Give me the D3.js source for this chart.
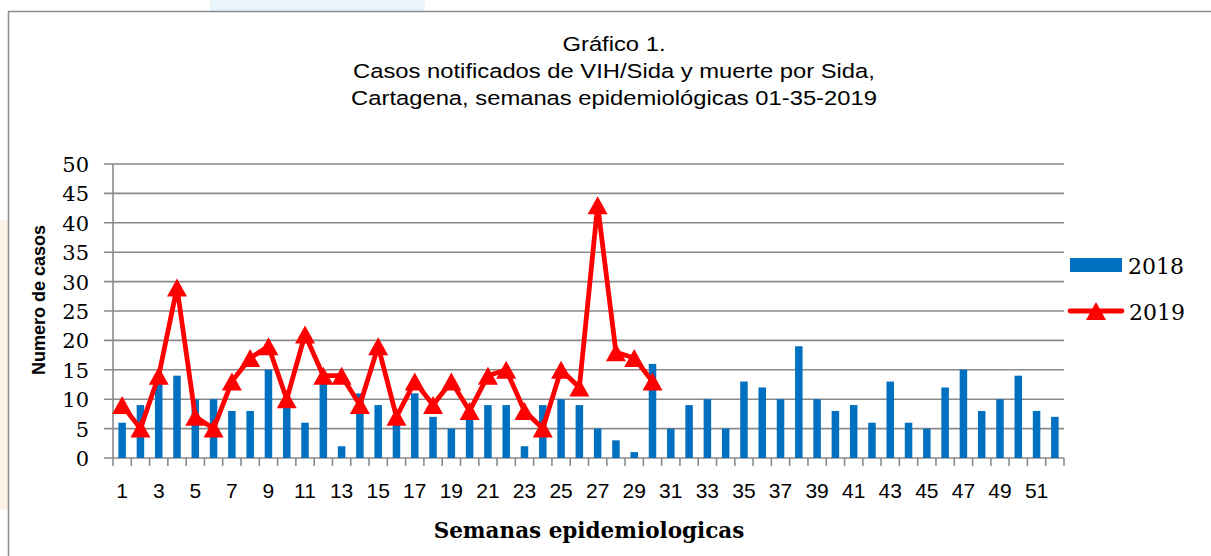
<!DOCTYPE html>
<html>
<head>
<meta charset="utf-8">
<script src="https://cdn.jsdelivr.net/npm/d3@7"></script>
<style>
  body { margin: 0; background: #fff; }
  svg { display: block; }
</style>
</head>
<body>
<div id="chart"></div>
<script>
// datos
const semanas = d3.range(1, 53)
const casos2018 = [6, 9, 13, 14, 10, 10, 8, 8, 15, 10, 6, 13, 2, 11, 9, 7, 11, 7, 5, 7,
  9, 9, 2, 9, 10, 9, 5, 3, 1, 16, 5, 9, 10, 5, 13, 12, 10, 19, 10, 8,
  9, 6, 13, 6, 5, 12, 15, 8, 10, 14, 8, 7]
const casos2019 = [9, 5, 14, 29, 7, 5, 13, 17, 19, 10, 21, 14, 14, 9, 19, 7, 13, 9, 13, 8,
  14, 15, 8, 5, 15, 12, 43, 18, 17, 13]
const yTicks = [0, 5, 10, 15, 20, 25, 30, 35, 40, 45, 50]
const titulo = ["Gráfico 1.", "Casos notificados de VIH/Sida y muerte por Sida,", "Cartagena, semanas epidemiológicas 01-35-2019"]

let width = 1211
let height = 556
const margin = { left: 113, right: 1064, top: 164, bottom: 458 }

let svg = d3.select("#chart")
  .append("svg")
  .attr("width", width)
  .attr("height", height)

// fondo (restos de la pagina)
svg.append("rect").attr("x", 210).attr("y", 0).attr("width", 215).attr("height", 11).attr("fill", "#eaf5fb")
svg.append("rect").attr("x", 0).attr("y", 220).attr("width", 8).attr("height", 290).attr("fill", "#fdf3e6")

// marco
svg.append("rect")
  .attr("x", 8.5).attr("y", 11.5)
  .attr("width", 1215).attr("height", 560)
  .attr("fill", "#fff")
  .attr("stroke", "#8c8c8c")
  .attr("stroke-width", 1.5)

// titulo
svg.append("g").selectAll("text")
  .data(titulo)
  .enter().append("text")
  .attr("transform", (d, i) => `translate(614,${50.5 + i * 27}) scale(1.16,1)`)
  .attr("text-anchor", "middle")
  .style("font-family", "Liberation Sans, Arial, sans-serif")
  .style("font-size", "20.5px")
  .style("fill", "#000")
  .text(d => d)

let x = d3.scaleBand()
  .domain(semanas)
  .range([margin.left, margin.right])
  .paddingInner(0)

let y = d3.scaleLinear()
  .domain([0, 50])
  .range([margin.bottom, margin.top])

// lineas de cuadricula
svg.append("g")
  .selectAll("line")
  .data(yTicks)
  .enter().append("line")
  .attr("x1", margin.left - 9)
  .attr("x2", margin.right)
  .attr("y1", d => y(d))
  .attr("y2", d => y(d))
  .attr("stroke", "#8a8a8a")
  .attr("stroke-width", 1.6)

// eje y
svg.append("line")
  .attr("x1", margin.left).attr("x2", margin.left)
  .attr("y1", margin.top).attr("y2", margin.bottom)
  .attr("stroke", "#8a8a8a")
  .attr("stroke-width", 1.6)

svg.append("g")
  .selectAll("text")
  .data(yTicks)
  .enter().append("text")
  .attr("x", 89)
  .attr("y", d => y(d) + 8)
  .attr("text-anchor", "end")
  .style("font-family", "DejaVu Serif, serif")
  .style("font-size", "21px")
  .text(d => d)

// ticks eje x
svg.append("g")
  .selectAll("line")
  .data(semanas.concat([53]))
  .enter().append("line")
  .attr("x1", d => d === 53 ? margin.right : x(d))
  .attr("x2", d => d === 53 ? margin.right : x(d))
  .attr("y1", margin.bottom)
  .attr("y2", margin.bottom + 8)
  .attr("stroke", "#8a8a8a")
  .attr("stroke-width", 1.6)

svg.append("g")
  .selectAll("text")
  .data(semanas.filter(d => d % 2 === 1))
  .enter().append("text")
  .attr("x", d => x(d) + x.bandwidth() / 2)
  .attr("y", 498)
  .attr("text-anchor", "middle")
  .style("font-family", "Liberation Sans, Arial, sans-serif")
  .style("font-size", "21px")
  .text(d => d)

// barras 2018
let barW = 7.5
svg.append("g")
  .selectAll("rect")
  .data(casos2018)
  .enter().append("rect")
  .attr("x", (d, i) => x(semanas[i]) + x.bandwidth() / 2 - barW / 2)
  .attr("y", d => y(d))
  .attr("width", barW)
  .attr("height", d => y(0) - y(d))
  .attr("fill", "#0070c0")

// linea 2019
let line = d3.line()
  .x((d, i) => x(semanas[i]) + x.bandwidth() / 2)
  .y(d => y(d))

svg.append("path")
  .datum(casos2019)
  .attr("d", line)
  .attr("fill", "none")
  .attr("stroke", "#ff0000")
  .attr("stroke-width", 4.8)
  .attr("stroke-linejoin", "round")

const tri = "M0,-9L10,9L-10,9Z"
svg.append("g")
  .selectAll("path")
  .data(casos2019)
  .enter().append("path")
  .attr("d", tri)
  .attr("transform", (d, i) => `translate(${x(semanas[i]) + x.bandwidth() / 2},${y(d)})`)
  .attr("fill", "#ff0000")

// leyenda
svg.append("rect")
  .attr("x", 1070).attr("y", 258)
  .attr("width", 52).attr("height", 14)
  .attr("fill", "#0070c0")
svg.append("text")
  .attr("x", 1128).attr("y", 274)
  .style("font-family", "DejaVu Serif, serif")
  .style("font-size", "22px")
  .text("2018")

svg.append("line")
  .attr("x1", 1070).attr("x2", 1122)
  .attr("y1", 311).attr("y2", 311)
  .attr("stroke", "#ff0000")
  .attr("stroke-width", 4.8)
  .attr("stroke-linecap", "round")
svg.append("path")
  .attr("d", tri)
  .attr("transform", "translate(1096,311)")
  .attr("fill", "#ff0000")
svg.append("text")
  .attr("x", 1129).attr("y", 320)
  .style("font-family", "DejaVu Serif, serif")
  .style("font-size", "22px")
  .text("2019")

// titulos de ejes
svg.append("text")
  .attr("transform", "translate(45,300) rotate(-90)")
  .attr("text-anchor", "middle")
  .style("font-family", "Liberation Sans, Arial, sans-serif")
  .style("font-weight", "bold")
  .style("font-size", "18px")
  .text("Numero de casos")

svg.append("text")
  .attr("x", 589).attr("y", 538)
  .attr("text-anchor", "middle")
  .style("font-family", "DejaVu Serif, serif")
  .style("font-weight", "bold")
  .style("font-size", "21.5px")
  .text("Semanas epidemiologicas")
</script>
</body>
</html>
